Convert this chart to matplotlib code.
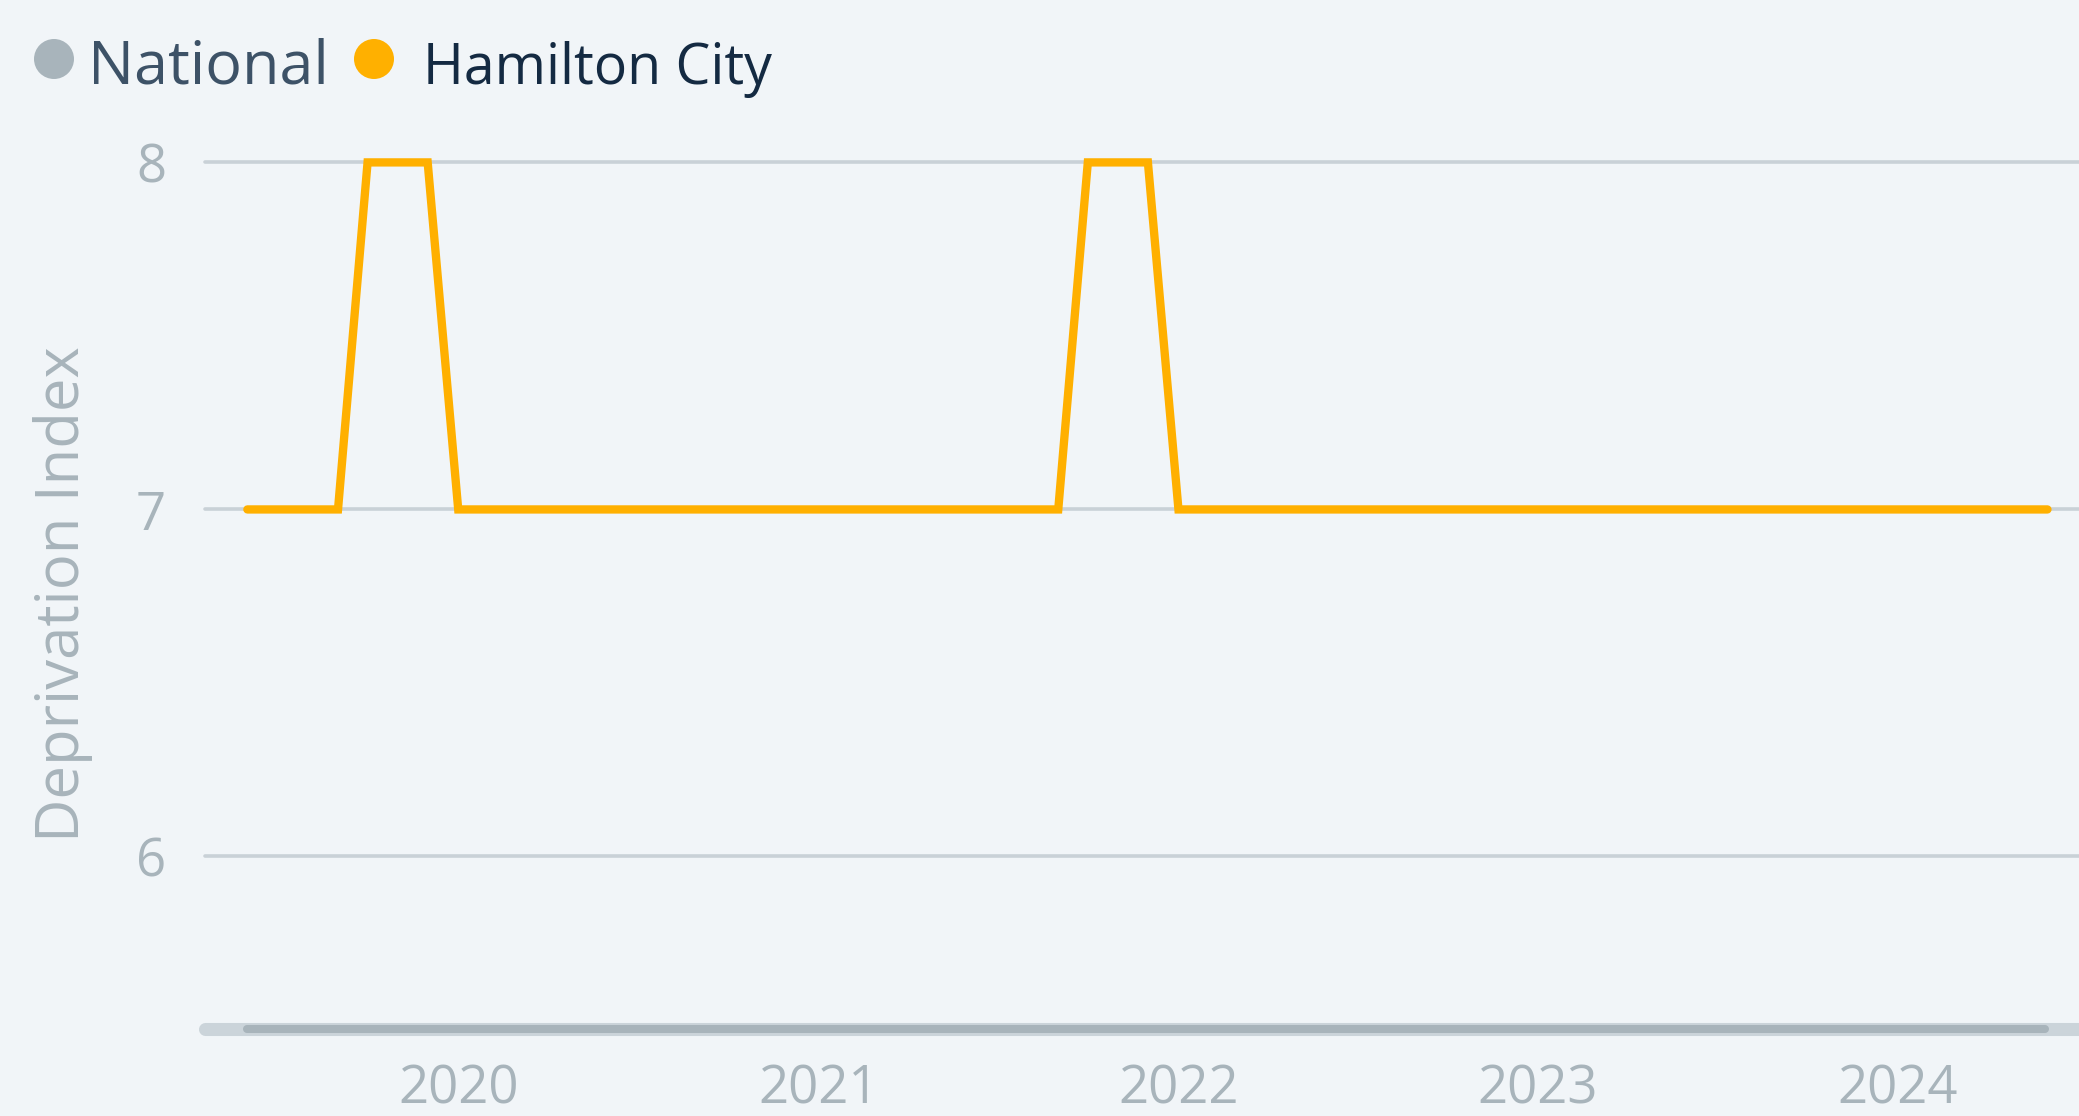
import datetime as dt

import matplotlib

matplotlib.use("Agg")
import matplotlib.dates as mdates  # noqa: E402
import matplotlib.pyplot as plt  # noqa: E402
from matplotlib.lines import Line2D  # noqa: E402
from matplotlib.patches import Circle  # noqa: E402

# monthly deprivation index, Jun 2019 .. Jun 2024
start_year, start_month = 2019, 6
hamilton = [7, 7, 7, 7, 8, 8, 8,            # 2019 Jun-Dec
            7, 7, 7, 7, 7, 7, 7, 7, 7, 7, 7, 7,   # 2020
            7, 7, 7, 7, 7, 7, 7, 7, 7, 8, 8, 8,   # 2021
            7, 7, 7, 7, 7, 7, 7, 7, 7, 7, 7, 7,   # 2022
            7, 7, 7, 7, 7, 7, 7, 7, 7, 7, 7, 7,   # 2023
            7, 7, 7, 7, 7, 7]                     # 2024 Jan-Jun
years = [2020, 2021, 2022, 2023, 2024]
y_ticks = [6, 7, 8]
series_names = ["National", "Hamilton City"]

dates = []
y, m = start_year, start_month
for _ in hamilton:
    dates.append(dt.date(y, m, 1))
    m += 1
    if m > 12:
        y, m = y + 1, 1

W, H = 2079, 1116
BG = "#f1f5f8"
GRID = "#c9d1d7"
MUTED = "#a8b4bb"
ORANGE = "#ffb000"
SANS = ["Open Sans", "DejaVu Sans"]

fig = plt.figure(figsize=(W / 100, H / 100), dpi=100, facecolor=BG)
ax = fig.add_axes([205 / W, (H - 1030) / H, 1 - 205 / W, (1030 - 93) / H])
ax.set_facecolor(BG)

for v in y_ticks:
    ax.axhline(v, color=GRID, lw=2.6, solid_capstyle="round", zorder=1, clip_on=False)

ax.plot(dates, hamilton, color=ORANGE, lw=6.0, solid_capstyle="round",
        solid_joinstyle="miter", zorder=3, clip_on=False)

jan20 = mdates.date2num(dt.date(2020, 1, 1))
ax.set_xlim(jan20 - 257, jan20 + 1645)
ax.set_ylim(5.5, 8.2)

ax.set_xticks([dt.date(yr, 1, 1) for yr in years])
ax.set_xticklabels([str(yr) for yr in years], family=SANS, fontsize=38, color=MUTED)
ax.set_yticks(y_ticks)
ax.set_yticklabels([str(v) for v in y_ticks], family=SANS, fontsize=38, color=MUTED)
ax.tick_params(axis="x", length=0, pad=24)
ax.tick_params(axis="y", length=0, pad=28)
for s in ax.spines.values():
    s.set_visible(False)

fig.text(63 / W, 1 - 594 / H, "Deprivation Index", rotation=90,
         ha="center", va="center", family=SANS, fontsize=43, color=MUTED)

# scrollbar under the plot
bar_y = 1 - 1029 / H
fig.add_artist(Line2D([205 / W, 1.01], [bar_y, bar_y], transform=fig.transFigure,
                      color="#cbd4da", lw=9.4, solid_capstyle="round"))
fig.add_artist(Line2D([247 / W, 2045 / W], [bar_y, bar_y], transform=fig.transFigure,
                      color=MUTED, lw=5.8, solid_capstyle="round"))

# legend
fig.add_artist(Circle((54, H - 59), 20, transform=None, color=MUTED, lw=0))
fig.text(88 / W, 1 - 84 / H, series_names[0], ha="left", va="baseline",
         family=SANS, fontsize=44, color="#3d5267")
fig.add_artist(Circle((374, H - 59), 20, transform=None, color=ORANGE, lw=0))
fig.text(423 / W, 1 - 84 / H, series_names[1], ha="left", va="baseline",
         family=SANS, fontsize=40, color="#142a42")

fig.savefig("out.png", dpi=100, facecolor=BG)
plt.close(fig)
